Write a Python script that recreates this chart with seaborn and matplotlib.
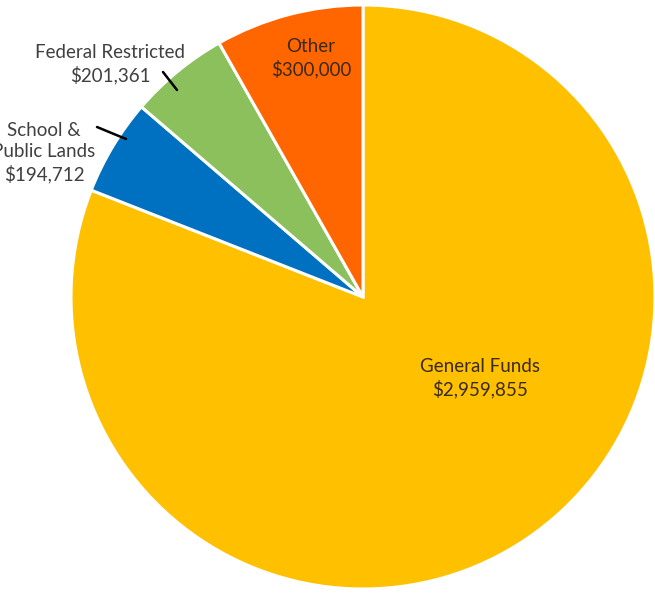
import matplotlib
matplotlib.use("Agg")
import matplotlib.pyplot as plt
import seaborn as sns

categories = ["General Funds", "School &\nPublic Lands", "Federal Restricted", "Other"]
values = [2959855, 194712, 201361, 300000]
value_labels = ["$2,959,855", "$194,712", "$201,361", "$300,000"]
colors = ["#FFC000", "#0070C0", "#8CC05C", "#FF6600"]

sns.set_theme(style="white")
plt.rcParams['font.family'] = ['Lato', 'DejaVu Sans']

fig = plt.figure(figsize=(6.55, 5.94), dpi=100)
ax = fig.add_axes([0, 0, 1, 1])
R = 292.0
ax.pie(values, colors=colors, startangle=90, counterclock=False, radius=1.0,
       wedgeprops=dict(edgecolor="white", linewidth=2.2))
ax.set_xlim(-363 / R, (655 - 363) / R)
ax.set_ylim(-(594 - 297) / R, 297 / R)
ax.set_aspect("equal")
ax.axis("off")

def px(x, y):
    return (x - 363) / R, (297 - y) / R

fs = 13.5
txt_out = "#404040"
txt_in = "#3A2A1A"
# General Funds (inside)
ax.text(*px(480, 378), f"{categories[0]}\n{value_labels[0]}", ha="center", va="center",
        fontsize=fs, color=txt_in, linespacing=1.3)
# Other (inside)
ax.text(*px(311, 58), f"{categories[3]}\n{value_labels[3]}", ha="center", va="center",
        fontsize=fs, color=txt_in, linespacing=1.3)
# Federal Restricted (outside)
ax.text(*px(110, 64), f"{categories[2]}\n{value_labels[2]}", ha="center", va="center",
        fontsize=fs, color=txt_out, linespacing=1.3)
ax.plot(*zip(px(163, 72), px(177, 90)), color="black", lw=1.8)
# School & Public Lands (outside)
ax.text(*px(44, 153), f"{categories[1]}\n{value_labels[1]}", ha="center", va="center",
        fontsize=fs, color=txt_out, linespacing=1.3)
ax.plot(*zip(px(97, 127), px(126, 139)), color="black", lw=1.8)

fig.savefig("out.png", dpi=100, facecolor="white")
